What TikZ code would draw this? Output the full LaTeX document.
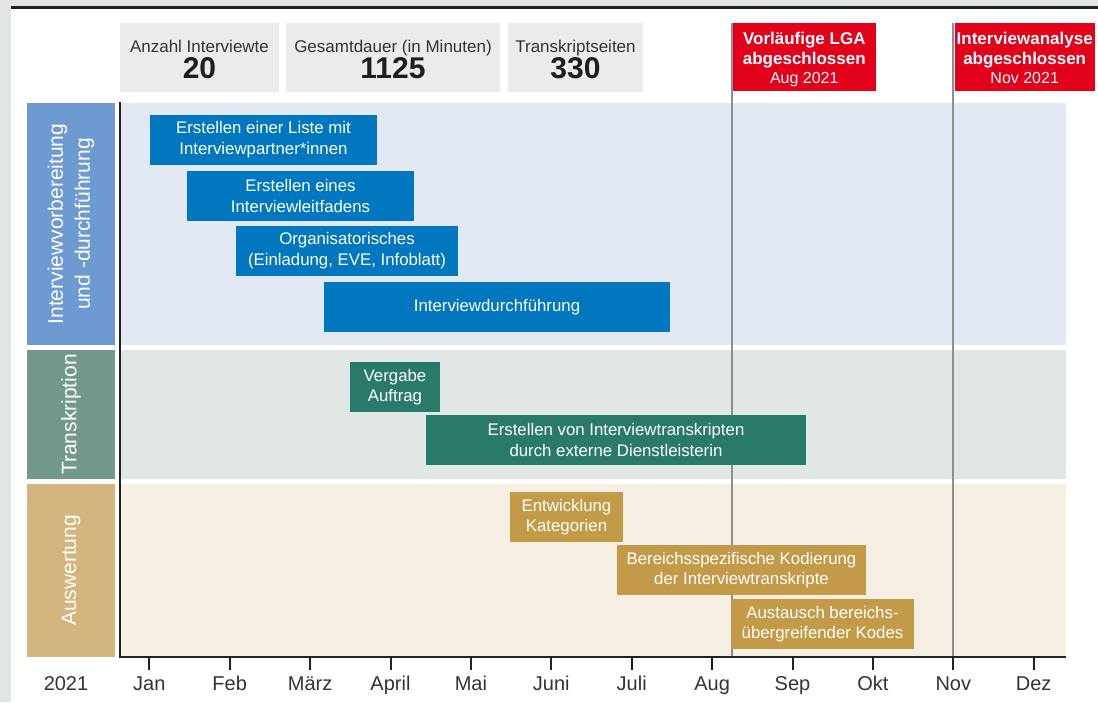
\documentclass[tikz,border=0pt]{standalone}
\usepackage{fontspec}
\setmainfont{Liberation Sans}
\definecolor{outerGrey}{HTML}{E1E6E3}
\definecolor{headGrey}{HTML}{EBEBEB}
\definecolor{headText}{HTML}{333333}
\definecolor{headNum}{HTML}{1E1E1E}
\definecolor{flagRed}{HTML}{E2001A}
\definecolor{poleGrey}{HTML}{8E8E8E}
\definecolor{prepLane}{HTML}{6E9AD2}
\definecolor{prepBg}{HTML}{E3E8F5}
\definecolor{prepBar}{HTML}{0077BF}
\definecolor{transLane}{HTML}{73998D}
\definecolor{transBg}{HTML}{E1E7E4}
\definecolor{transBar}{HTML}{2A7A69}
\definecolor{evalLane}{HTML}{D4B57D}
\definecolor{evalBg}{HTML}{F5EFE4}
\definecolor{evalBar}{HTML}{C39A48}
\definecolor{axisBlack}{HTML}{222222}
\begin{document}
\begin{tikzpicture}[x=1pt,y=-1pt,
  box/.style={inner sep=0pt,outer sep=0pt,anchor=north west},
  task/.style={box,text=white,align=center,font=\fontsize{16.8}{20.5}\selectfont},
  prep/.style={task,fill=prepBar},
  trans/.style={task,fill=transBar},
  eval/.style={task,fill=evalBar},
  lanelbl/.style={inner sep=0pt,outer sep=0pt,rotate=90,text=white,align=center,font=\fontsize{21}{27}\selectfont},
  head/.style={box,fill=headGrey},
  headtxt/.style={anchor=base,inner sep=0pt,text=headText,font=\fontsize{17}{17}\selectfont},
  headnum/.style={anchor=base,inner sep=0pt,text=headNum,font=\fontsize{30}{30}\selectfont\bfseries},
  flag/.style={box,fill=flagRed},
  flagtxt/.style={anchor=base,inner sep=0pt,text=white,font=\fontsize{17}{17}\selectfont\bfseries},
  flagdate/.style={anchor=base,inner sep=0pt,text=white,font=\fontsize{16}{16}\selectfont},
  pole/.style={draw=poleGrey,line width=2pt},
  axisline/.style={draw=axisBlack,line width=2.6pt},
  tickline/.style={draw=axisBlack,line width=2pt},
  monthlbl/.style={anchor=base,inner sep=0pt,text=headText,font=\fontsize{20}{20}\selectfont}]

\useasboundingbox (0,0) rectangle (1098,702);
% page frame
\fill[outerGrey] (0,0) rectangle (1098,702);
\fill[white] (11,9) rectangle (1098,702);
\draw[draw=axisBlack,line width=2.6pt] (11,7.5) -- (1098,7.5);

% key figures
\node[head,minimum width=159pt,minimum height=69pt] (hb1) at (120,23) {};
\node[headtxt] (hb1t) at (199.5,52) {Anzahl Interviewte};
\node[headnum] (hb1n) at (199.5,78) {20};
\node[head,minimum width=214pt,minimum height=69pt] (hb2) at (286,23) {};
\node[headtxt] (hb2t) at (393,52) {Gesamtdauer (in Minuten)};
\node[headnum] (hb2n) at (393,78) {1125};
\node[head,minimum width=135pt,minimum height=69pt] (hb3) at (508,23) {};
\node[headtxt] (hb3t) at (575.5,52) {Transkriptseiten};
\node[headnum] (hb3n) at (575.5,78) {330};

% swimlanes
\node[lanelbl,fill=prepLane,minimum width=242pt,minimum height=88pt] (l1) at (71,224) {Interviewvorbereitung\\und -durchführung};
\node[box,fill=prepBg,minimum width=945pt,minimum height=242pt] (bg1) at (121,103) {};
\node[lanelbl,fill=transLane,minimum width=129pt,minimum height=88pt] (l2) at (71,414.5) {Transkription};
\node[box,fill=transBg,minimum width=945pt,minimum height=129pt] (bg2) at (121,350) {};
\node[lanelbl,fill=evalLane,minimum width=173pt,minimum height=88pt] (l3) at (71,570.5) {Auswertung};
\node[box,fill=evalBg,minimum width=945pt,minimum height=173pt] (bg3) at (121,484) {};

% milestones
\coordinate (ax) at (120,657);
\node[flag,minimum width=143pt,minimum height=68pt] (f1) at (732.8,23) {};
\node[flag,minimum width=140.5pt,minimum height=68pt] (f2) at (954.5,23) {};
\draw[pole] ([xshift=-1pt]f1.north west) -- ([xshift=-1pt]f1.north west |- ax);
\draw[pole] ([xshift=-1.5pt]f2.north west) -- ([xshift=-1.5pt]f2.north west |- ax);
\node[flagtxt] (f1a) at (804.3,44) {Vorläufige LGA};
\node[flagtxt] (f1b) at (804.3,64) {abgeschlossen};
\node[flagdate] (f1c) at (804.3,83.5) {Aug 2021};
\node[flagtxt] (f2a) at (1024.7,44) {Interviewanalyse};
\node[flagtxt] (f2b) at (1024.7,64) {abgeschlossen};
\node[flagdate] (f2c) at (1024.7,83.5) {Nov 2021};

% tasks
\node[prep,minimum width=227pt,minimum height=49.5pt] (t1) at (150,115) {Erstellen einer Liste mit\\Interviewpartner*innen};
\node[prep,minimum width=227pt,minimum height=49.5pt] (t2) at (187,171) {Erstellen eines\\Interviewleitfadens};
\node[prep,minimum width=222pt,minimum height=49.5pt] (t3) at (236,226) {Organisatorisches\\(Einladung, EVE, Infoblatt)};
\node[prep,minimum width=346pt,minimum height=49.5pt] (t4) at (324,282) {Interviewdurchführung};
\node[trans,minimum width=90pt,minimum height=50pt] (t5) at (350,362) {Vergabe\\Auftrag};
\node[trans,minimum width=380pt,minimum height=50pt] (t6) at (426,415) {Erstellen von Interviewtranskripten\\durch externe Dienstleisterin};
\node[eval,minimum width=113pt,minimum height=50pt] (t7) at (510,492) {Entwicklung\\Kategorien};
\node[eval,minimum width=249pt,minimum height=50pt] (t8) at (617,545) {Bereichsspezifische Kodierung\\der Interviewtranskripte};
\node[eval,minimum width=183pt,minimum height=50pt] (t9) at (731,599) {Austausch bereichs-\\übergreifender Kodes};

% time axis
\draw[axisline] (120,102) -- (ax) -- (1065.5,657);
\node[monthlbl] (yr) at (66,690) {2021};
\foreach \m [count=\i from 0] in {Jan,Feb,März,April,Mai,Juni,Juli,Aug,Sep,Okt,Nov,Dez}{
  \pgfmathsetmacro\mx{149.3+80.4*\i}
  \draw[tickline] (\mx,657) -- (\mx,670);
  \node[monthlbl] (m\i) at (\mx,690) {\m};
}
\end{tikzpicture}
\end{document}
